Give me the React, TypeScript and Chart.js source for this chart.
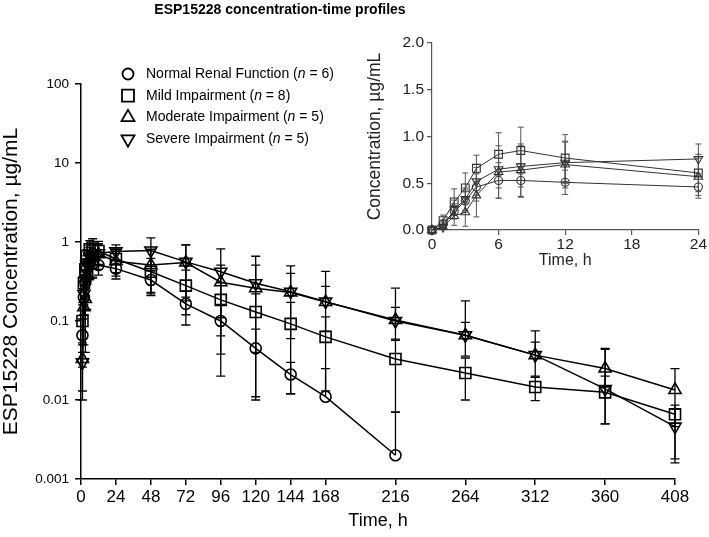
import React, { useEffect, useRef } from "react";
import { Chart, registerables } from "chart.js";

Chart.register(...registerables);

// ---------- data ----------
const times = [0, 1, 2, 3, 4, 6, 8, 12, 24, 48, 72, 96, 120, 144, 168, 216, 264, 312, 360, 408];

const normalMean = [0, 0.066, 0.2, 0.31, 0.46, 0.53, 0.53, 0.51, 0.46, 0.33, 0.165, 0.1, 0.045, 0.021, 0.011, 0.002, null, null, null, null];
const normalSD = [0, 0.04, 0.08, 0.12, 0.15, 0.19, 0.18, 0.13, 0.12, 0.1, 0.076, 0.062, 0.034, 0.009, 0.014, 0.005, null, null, null, null];

const mildMean = [0, 0.1, 0.3, 0.45, 0.66, 0.81, 0.85, 0.77, 0.61, 0.42, 0.28, 0.185, 0.13, 0.092, 0.063, 0.033, 0.022, 0.0146, 0.0125, 0.0066];
const mildSD = [0, 0.06, 0.14, 0.16, 0.14, 0.23, 0.25, 0.25, 0.2, 0.2, 0.16, 0.12, 0.09, 0.08, 0.05, 0.026, 0.012, 0.0048, 0.0075, 0.002];

const moderateMean = [0, 0.033, 0.15, 0.19, 0.37, 0.62, 0.64, 0.7, 0.57, 0.51, 0.55, 0.31, 0.26, 0.23, 0.174, 0.103, 0.066, 0.037, 0.025, 0.0134];
const moderateSD = [0, 0.02, 0.1, 0.15, 0.23, 0.28, 0.28, 0.25, 0.2, 0.3, 0.37, 0.2, 0.25, 0.17, 0.1, 0.046, 0.03, 0.017, 0.02, 0.0116];

const severeMean = [0, 0.03, 0.22, 0.33, 0.52, 0.65, 0.68, 0.72, 0.76, 0.78, 0.56, 0.42, 0.3, 0.235, 0.176, 0.1, 0.066, 0.037, 0.0138, 0.0046];
const severeSD = [0, 0.02, 0.1, 0.12, 0.15, 0.2, 0.22, 0.22, 0.16, 0.35, 0.36, 0.4, 0.36, 0.265, 0.25, 0.16, 0.114, 0.038, 0.03, 0.003];

const seriesLabels = ["Normal Renal Function", "Mild Impairment", "Moderate Impairment", "Severe Impairment"];
const seriesN = [6, 8, 5, 5];

const mainXTicks = [0, 24, 48, 72, 96, 120, 144, 168, 216, 264, 312, 360, 408];
const mainYTicks = [0.001, 0.01, 0.1, 1, 10, 100];
const insetXTicks = [0, 6, 12, 18, 24];
const insetYTicks = [0, 0.5, 1, 1.5, 2];
const insetMaxTime = 24;

const chartTitle = "ESP15228 concentration-time profiles";
const mainYTitle = "ESP15228 Concentration, µg/mL";
const mainXTitle = "Time, h";
const insetYTitle = "Concentration, µg/mL";
const insetXTitle = "Time, h";

// ---------- styles ----------
const REG = '"Liberation Sans", Arial, sans-serif';

const means = [normalMean, mildMean, moderateMean, severeMean];
const sds = [normalSD, mildSD, moderateSD, severeSD];
const markerStyles = [
  { pointStyle: "circle", rotation: 0, main: 5.5, inset: 4 },
  { pointStyle: "rect", rotation: 0, main: 7.8, inset: 5.5 },
  { pointStyle: "triangle", rotation: 0, main: 7, inset: 5 },
  { pointStyle: "triangle", rotation: 180, main: 7, inset: 5 },
];

// ---------- plugins ----------
const errorBarsPlugin = {
  id: "errorBars",
  beforeDatasetsDraw(chart: any, _args: any, opts: any) {
    const { ctx, chartArea } = chart;
    const yScale = chart.scales.y;
    ctx.save();
    ctx.beginPath();
    ctx.rect(chartArea.left - 10, chartArea.top - 10, chartArea.right - chartArea.left + 20, chartArea.bottom - chartArea.top + 10);
    ctx.clip();
    ctx.strokeStyle = opts.color;
    ctx.lineWidth = opts.width;
    chart.data.datasets.forEach((ds: any, di: number) => {
      const meta = chart.getDatasetMeta(di);
      meta.data.forEach((pt: any, j: number) => {
        const raw = ds.data[j];
        const sd = ds.sd[j];
        if (!raw || raw.y == null || !sd) return;
        const x = pt.x;
        const yTop = yScale.getPixelForValue(raw.y + sd);
        const low = raw.y - sd;
        let yBot: number;
        let botCap = true;
        if (low > 0) {
          yBot = yScale.getPixelForValue(low);
        } else if (opts.log) {
          yBot = pt.y;
          botCap = false;
        } else {
          yBot = chartArea.bottom;
          botCap = false;
        }
        const c = opts.cap / 2;
        ctx.beginPath();
        ctx.moveTo(x, yTop);
        ctx.lineTo(x, yBot);
        ctx.moveTo(x - c, yTop);
        ctx.lineTo(x + c, yTop);
        if (botCap) {
          ctx.moveTo(x - c, yBot);
          ctx.lineTo(x + c, yBot);
        }
        ctx.stroke();
      });
    });
    ctx.restore();
  },
};

function drawMarker(ctx: CanvasRenderingContext2D, kind: number, x: number, y: number) {
  ctx.beginPath();
  if (kind === 0) {
    ctx.arc(x, y, 5.5, 0, Math.PI * 2);
  } else if (kind === 1) {
    ctx.rect(x - 6, y - 6, 12, 12);
  } else {
    const r = 7.5;
    const s = kind === 2 ? 1 : -1;
    ctx.moveTo(x, y - s * r);
    ctx.lineTo(x + r * Math.sin(Math.PI / 3), y + s * r / 2);
    ctx.lineTo(x - r * Math.sin(Math.PI / 3), y + s * r / 2);
    ctx.closePath();
  }
  ctx.stroke();
}

const customLegendPlugin = {
  id: "customLegend",
  afterDraw(chart: any, _args: any, opts: any) {
    const { ctx } = chart;
    ctx.save();
    ctx.strokeStyle = "#000";
    ctx.lineWidth = 1.8;
    ctx.fillStyle = "#000";
    ctx.textBaseline = "middle";
    seriesLabels.forEach((label, i) => {
      const y = opts.y0 + i * opts.dy;
      drawMarker(ctx, i, opts.markerX, y);
      let x = opts.textX;
      const normal = `${opts.size}px ${REG}`;
      const italic = `italic ${opts.size}px ${REG}`;
      const parts: [string, string][] = [
        [label + " (", normal],
        ["n", italic],
        [` = ${seriesN[i]})`, normal],
      ];
      parts.forEach(([t, f]) => {
        ctx.font = f;
        ctx.fillText(t, x, y);
        x += ctx.measureText(t).width;
      });
    });
    ctx.restore();
  },
};

const titleTextPlugin = {
  id: "titleText",
  afterDraw(chart: any, _args: any, opts: any) {
    const { ctx } = chart;
    ctx.save();
    ctx.fillStyle = "#000";
    ctx.font = `bold ${opts.size}px ${REG}`;
    ctx.textAlign = "center";
    ctx.textBaseline = "middle";
    ctx.fillText(opts.text, opts.x, opts.y);
    ctx.restore();
  },
};

function MainChart() {
  const ref = useRef<HTMLCanvasElement | null>(null);
  useEffect(() => {
    if (!ref.current) return;
    const datasets = seriesLabels.map((label, i) => ({
      label,
      data: times.map((t, j) => ({ x: t, y: means[i][j] != null && (means[i][j] as number) > 0 ? means[i][j] : null })),
      sd: sds[i],
      borderColor: "#000",
      borderWidth: 1.5,
      pointStyle: markerStyles[i].pointStyle,
      pointRotation: markerStyles[i].rotation,
      pointRadius: markerStyles[i].main,
      pointBorderWidth: 1.6,
      pointBorderColor: "#000",
      pointBackgroundColor: "rgba(0,0,0,0)",
      fill: false,
      tension: 0,
      clip: false,
    }));
    const chart = new Chart(ref.current, {
      type: "line",
      data: { datasets } as any,
      options: {
        animation: false,
        responsive: false,
        maintainAspectRatio: false,
        layout: { padding: { left: 0, right: 34, top: 84, bottom: 0 } },
        plugins: {
          legend: { display: false },
          tooltip: { enabled: false },
          title: { display: false },
          titleText: { text: chartTitle, x: 280, y: 10, size: 14 },
          errorBars: { color: "#000", width: 1.3, cap: 9, log: true },
          customLegend: { markerX: 128, textX: 146, y0: 74, dy: 21.7, size: 14 },
        } as any,
        scales: {
          x: {
            type: "linear",
            min: 0,
            max: 408,
            afterBuildTicks: (s: any) => {
              s.ticks = mainXTicks.map((v) => ({ value: v }));
            },
            afterFit: (s: any) => {
              s.height = 58;
            },
            grid: { display: true, drawOnChartArea: false, drawTicks: true, tickLength: 6, color: "#000", lineWidth: 1.5 },
            border: { display: true, color: "#000", width: 1.5 },
            ticks: { color: "#000", font: { family: REG, size: 17, lineHeight: 1.0 }, padding: 3.5, maxRotation: 0, autoSkip: false },
            title: { display: true, text: mainXTitle, color: "#000", font: { family: REG, size: 18, lineHeight: 1.2 }, padding: { top: 0, bottom: 5 } },
          },
          y: {
            type: "logarithmic",
            min: 0.001,
            max: 100,
            afterBuildTicks: (s: any) => {
              s.ticks = mainYTicks.map((v) => ({ value: v }));
            },
            afterFit: (s: any) => {
              s.width = 81;
            },
            grid: { display: true, drawOnChartArea: false, drawTicks: true, tickLength: 6, color: "#000", lineWidth: 1.5 },
            border: { display: true, color: "#000", width: 1.5 },
            ticks: {
              color: "#000",
              font: { family: REG, size: 13.5 },
              padding: 6,
              autoSkip: false,
              callback: (v: any) => String(v),
            },
            title: { display: true, text: mainYTitle, color: "#000", font: { family: REG, size: 21, lineHeight: 1.1 }, padding: { top: 0, bottom: 0 } },
          },
        },
      } as any,
      plugins: [errorBarsPlugin, customLegendPlugin, titleTextPlugin],
    });
    return () => chart.destroy();
  }, []);
  return <canvas ref={ref} width={709} height={537} style={{ position: "absolute", left: 0, top: 0 }} />;
}

function InsetChart() {
  const ref = useRef<HTMLCanvasElement | null>(null);
  useEffect(() => {
    if (!ref.current) return;
    const datasets = seriesLabels.map((label, i) => ({
      label,
      data: times
        .map((t, j) => ({ x: t, y: means[i][j] }))
        .filter((p) => p.x <= insetMaxTime),
      sd: sds[i].filter((_, j) => times[j] <= insetMaxTime),
      borderColor: "#333",
      borderWidth: 1,
      pointStyle: markerStyles[i].pointStyle,
      pointRotation: markerStyles[i].rotation,
      pointRadius: markerStyles[i].inset,
      pointBorderWidth: 1.1,
      pointBorderColor: "#333",
      pointBackgroundColor: "rgba(0,0,0,0)",
      fill: false,
      tension: 0,
      clip: false,
    }));
    const chart = new Chart(ref.current, {
      type: "line",
      data: { datasets } as any,
      options: {
        animation: false,
        responsive: false,
        maintainAspectRatio: false,
        layout: { padding: { left: 0, right: 10, top: 15, bottom: 0 } },
        plugins: {
          legend: { display: false },
          tooltip: { enabled: false },
          errorBars: { color: "#555", width: 1, cap: 6, log: false },
        } as any,
        scales: {
          x: {
            type: "linear",
            min: 0,
            max: 24,
            afterBuildTicks: (s: any) => {
              s.ticks = insetXTicks.map((v) => ({ value: v }));
            },
            afterFit: (s: any) => {
              s.height = 48;
            },
            grid: { display: true, drawOnChartArea: false, drawTicks: true, tickLength: 5, color: "#555", lineWidth: 1.2 },
            border: { display: true, color: "#555", width: 1.2 },
            ticks: { color: "#222", font: { family: REG, size: 15.5, lineHeight: 1.0 }, padding: 2, maxRotation: 0, autoSkip: false },
            title: { display: true, text: insetXTitle, color: "#222", font: { family: REG, size: 16, lineHeight: 1.2 }, padding: { top: 0, bottom: 7.4 } },
          },
          y: {
            type: "linear",
            min: 0,
            max: 2,
            afterBuildTicks: (s: any) => {
              s.ticks = insetYTicks.map((v) => ({ value: v }));
            },
            afterFit: (s: any) => {
              s.width = 77;
            },
            grid: { display: true, drawOnChartArea: false, drawTicks: true, tickLength: 5, color: "#555", lineWidth: 1.2 },
            border: { display: true, color: "#555", width: 1.2 },
            ticks: { color: "#222", font: { family: REG, size: 15.5 }, padding: 3, autoSkip: false, callback: (v: any) => Number(v).toFixed(1) },
            title: { display: true, text: insetYTitle, color: "#222", font: { family: REG, size: 17.5, lineHeight: 1.2 }, padding: { top: 9.5, bottom: 0 } },
          },
        },
      } as any,
      plugins: [errorBarsPlugin],
    });
    return () => chart.destroy();
  }, []);
  return <canvas ref={ref} width={354} height={250} style={{ position: "absolute", left: 355, top: 28 }} />;
}

export default function App() {
  return (
    <div style={{ position: "absolute", left: 0, top: 0, width: 709, height: 537, background: "#fff", overflow: "hidden" }}>
      <MainChart />
      <InsetChart />
    </div>
  );
}
